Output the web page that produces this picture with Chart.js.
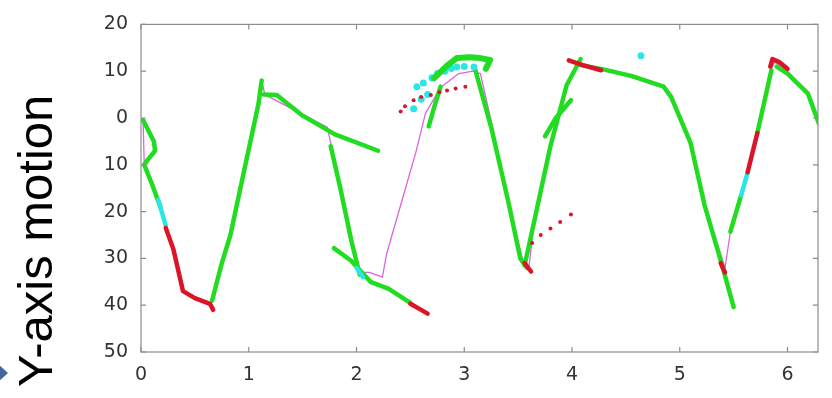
<!DOCTYPE html>
<html>
<head>
<meta charset="utf-8">
<script src="https://cdn.jsdelivr.net/npm/chart.js@4.4.1/dist/chart.umd.min.js"></script>
<style>
    html, body { margin: 0; padding: 0; background: #fff; }
    #wrap { position: relative; width: 832px; height: 398px; overflow: hidden; }
    #arrow {
        position: absolute; left: -3px; top: 363px; width: 0; height: 0;
        border-top: 10px solid transparent; border-bottom: 10px solid transparent;
        border-left: 11px solid #41699a;
    }
</style>
</head>
<body>
<div id="wrap">
    <canvas id="motionChart" width="832" height="398"></canvas>
    <div id="arrow"></div>
</div>
<script>
// ejes
const xTicks = [0, 1, 2, 3, 4, 5, 6];
const xMax = 6.283;
const yTicks = [20, 10, 0, -10, -20, -30, -40, -50];
const yTickLabels = ['20', '10', '0', '10', '20', '30', '40', '50'];
const yTitle = 'Y-axis motion';

// trayectoria de referencia (línea fina magenta)
const magentaPath = [[0.02,-1],[0.03,-10],[0.18,-19],[0.3,-28],[0.39,-37],[0.65,-40],[0.83,-25],[1.09,3],[1.13,7],[1.15,5],
    [1.73,-2],[1.85,-15],[2.03,-33],[2.12,-33],[2.24,-34],[2.28,-29],[2.41,-18.6],[2.55,-7.4],[2.64,1],[2.78,6.5],
    [2.95,9.5],[3.08,10],[3.15,9.5],[3.24,0.4],[3.41,-18],[3.55,-31],[3.6,-32],[3.65,-22],[3.8,-6],[3.95,7],
    [4.05,11.5],[4.27,10.5],[4.85,6.7],[4.92,4.5],[5.1,-5.3],[5.23,-18.6],[5.42,-32],[5.47,-24.3],[5.57,-16.5],
    [5.72,-3.2],[5.85,10.5],[5.88,12],[6.0,10],[6.19,5.2],[6.29,-1.1]];

// tramos verdes
const green1 = [[0.02,-0.5],[0.12,-5],[0.13,-7],[0.06,-9],[0.03,-10],[0.1,-14],[0.18,-19]];
const green2 = [[0.66,-39],[0.75,-31],[0.83,-25],[0.95,-12],[1.09,3],[1.12,8]];
const green3 = [[1.14,5],[1.26,4.9],[1.5,0.5],[1.8,-3.5],[2.2,-7]];
const green4 = [[1.76,-6],[1.85,-15],[1.95,-26],[2.03,-33.5]];
const green5 = [[1.79,-27.8],[1.95,-30.5],[2.13,-35],[2.3,-36.5],[2.5,-39.5]];
const green6 = [[2.67,-1.8],[2.73,3],[2.78,6.7]];
const green7 = [[2.72,8.5],[2.84,11.2],[2.93,12.8],[3.05,13],[3.15,12.8],[3.24,12.4],[3.2,10.5]];
const green8 = [[3.1,10.5],[3.25,-2],[3.41,-18],[3.52,-30],[3.58,-32]];
const green9 = [[3.56,-31.5],[3.65,-22],[3.8,-6],[3.95,7],[4.08,12.6]];
const green10 = [[3.75,-3.9],[3.85,0],[3.99,3.8]];
const green11 = [[4.08,11.3],[4.27,10.5],[4.55,9],[4.85,6.7],[4.92,4.5],[5.1,-5.3],[5.23,-18.6],[5.4,-32],[5.5,-40.4]];
const green12 = [[5.47,-24.3],[5.57,-16.5]];
const green13 = [[5.72,-3.2],[5.85,10.2]];
const green14 = [[5.9,11],[6.0,9.5],[6.19,5.2],[6.29,-1.1]];

// tramos cian
const cyan1 = [[0.16,-17.5],[0.23,-23]];
const cyan2 = [[2.0,-32],[2.06,-34]];
const cyan3 = [[5.57,-16.5],[5.63,-11.6]];
const cyanDots = [[2.53,2],[2.56,6.7],[2.6,4],[2.62,7.5],[2.66,5],[2.7,8.6],[2.75,9.5],[2.82,10],[2.88,10.6],
    [2.93,10.9],[3.0,11],[3.09,10.9],[4.64,13.3]];

// tramos rojos
const red1 = [[0.23,-23.5],[0.3,-28],[0.39,-37],[0.5,-38.5],[0.64,-39.7],[0.67,-41]];
const red2 = [[2.5,-39.7],[2.6,-41],[2.66,-41.8]];
const red3 = [[3.56,-31],[3.62,-32.8]];
const red4 = [[3.97,12.3],[4.1,11.3],[4.27,10.2]];
const red5 = [[5.38,-31],[5.42,-33]];
const red6 = [[5.63,-11.6],[5.72,-3.2]];
const red7 = [[5.84,11],[5.86,12.6],[5.92,12],[6.0,10.5]];
const redDots = [[2.41,1.4],[2.45,2.5],[2.53,3.8],[2.6,4.5],[2.69,4.9],[2.77,5.5],[2.84,5.9],[2.92,6.3],[3.01,6.7],
    [3.63,-26.7],[3.71,-25],[3.8,-23.6],[3.89,-22.2],[3.99,-20.6]];

const VERDE = '#22dc22';
const ROJO = '#dc1428';
const CIAN = '#2ae6e6';
const MAGENTA = '#dc64dc';

function tramo(puntos, color, ancho) {
    return {
        data: puntos.map(p => ({ x: p[0], y: p[1] })),
        showLine: true,
        borderColor: color,
        borderWidth: ancho,
        borderCapStyle: 'round',
        borderJoinStyle: 'round',
        pointRadius: 0,
        tension: 0
    };
}

function puntos(lista, color, radio) {
    return {
        data: lista.map(p => ({ x: p[0], y: p[1] })),
        showLine: false,
        backgroundColor: color,
        borderWidth: 0,
        pointRadius: radio
    };
}

// de abajo hacia arriba
const capas = [
    tramo(magentaPath, MAGENTA, 1.3),
    ...[green1, green2, green3, green4, green5, green6, green8, green9, green10, green11, green12, green13, green14]
        .map(g => tramo(g, VERDE, 4.5)),
    puntos(cyanDots, CIAN, 3.5),
    tramo(green7, VERDE, 6),
    ...[cyan1, cyan2, cyan3].map(c => tramo(c, CIAN, 4.5)),
    ...[red1, red2, red3, red4, red5, red6, red7].map(r => tramo(r, ROJO, 4.5)),
    puntos(redDots, ROJO, 2)
];
capas.forEach((d, i) => { d.order = capas.length - i; });

const marco = {
    id: 'marco',
    afterDatasetsDraw(chart) {
        const { ctx, chartArea: a, scales: { x, y } } = chart;
        ctx.save();
        ctx.strokeStyle = '#8c8c8c';
        ctx.lineWidth = 1.2;
        ctx.strokeRect(a.left, a.top, a.right - a.left, a.bottom - a.top);
        ctx.beginPath();
        xTicks.forEach(v => {
            const px = x.getPixelForValue(v);
            ctx.moveTo(px, a.bottom); ctx.lineTo(px, a.bottom - 5);
            ctx.moveTo(px, a.top); ctx.lineTo(px, a.top + 5);
        });
        yTicks.forEach(v => {
            const py = y.getPixelForValue(v);
            ctx.moveTo(a.left, py); ctx.lineTo(a.left + 5, py);
            ctx.moveTo(a.right, py); ctx.lineTo(a.right - 5, py);
        });
        ctx.stroke();

        ctx.translate(52, 387);
        ctx.rotate(-Math.PI / 2);
        ctx.font = '49px "Liberation Sans"';
        ctx.fillStyle = '#000';
        ctx.textBaseline = 'alphabetic';
        ctx.textAlign = 'left';
        ctx.fillText(yTitle, 0, 0);
        ctx.restore();
    }
};

const fuenteTicks = { family: 'DejaVu Sans', size: 19 };

new Chart(document.getElementById('motionChart').getContext('2d'), {
    type: 'scatter',
    data: { datasets: capas },
    options: {
        responsive: false,
        animation: false,
        layout: { padding: { left: 0, right: 14, top: 20, bottom: 0 } },
        plugins: { legend: { display: false }, tooltip: { enabled: false } },
        scales: {
            x: {
                type: 'linear', min: 0, max: xMax,
                afterBuildTicks: s => { s.ticks = xTicks.map(v => ({ value: v })); },
                afterFit: s => { s.height = 46; },
                grid: { display: false, drawTicks: false },
                border: { display: false },
                ticks: { padding: 12, font: fuenteTicks, color: '#333', maxRotation: 0, autoSkip: false }
            },
            y: {
                type: 'linear', min: -50, max: 20,
                afterBuildTicks: s => { s.ticks = yTicks.map(v => ({ value: v })); },
                afterFit: s => { s.width = 141; },
                grid: { display: false, drawTicks: false },
                border: { display: false },
                ticks: {
                    padding: 13, font: fuenteTicks, color: '#333', autoSkip: false,
                    callback: v => yTickLabels[yTicks.indexOf(v)]
                }
            }
        }
    },
    plugins: [marco]
});
</script>
</body>
</html>
